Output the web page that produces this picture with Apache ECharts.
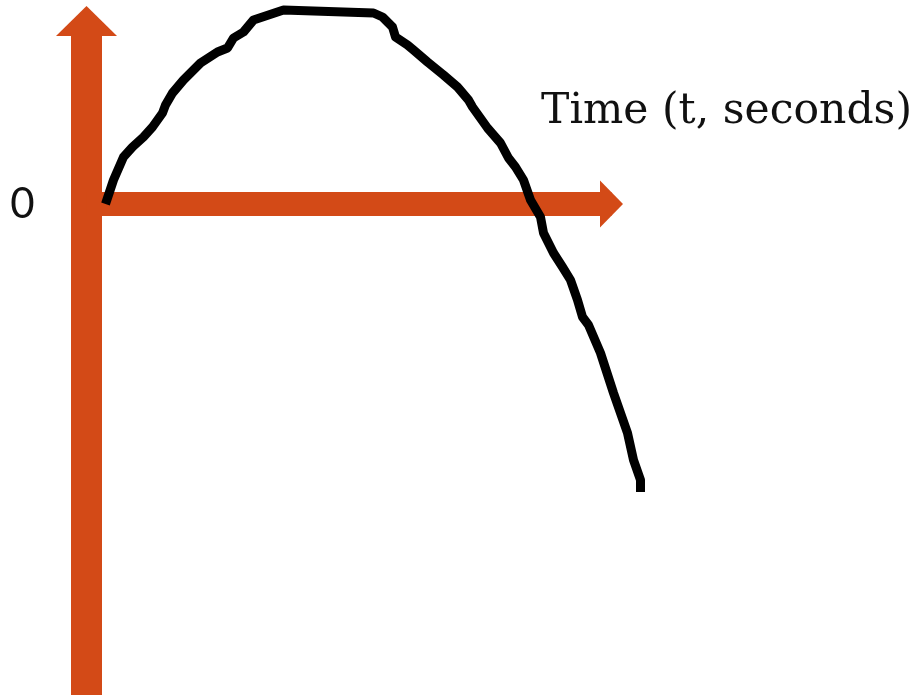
<!DOCTYPE html>
<html>
<head>
<meta charset="utf-8">
<script src="https://cdn.jsdelivr.net/npm/echarts@6/dist/echarts.min.js"></script>
<style>html,body{margin:0;padding:0;background:#fff;}#c{width:920px;height:695px;}</style>
</head>
<body>
<div id="c"></div>
<script>
// Time (arbitrary units) and height (arbitrary units, 0 at the time axis)
const timeValues = [1.9, 2.7, 3.7, 4.6, 5.7, 6.6, 7.6, 7.9, 8.6, 9.7, 11.4, 13.1, 14.1, 14.7, 15.7, 16.7, 19.7, 28.7, 29.6, 30.6, 30.9, 32.1, 32.7, 34.1, 35.7, 37.1, 38.2, 38.6, 40.1, 41.4, 42.2, 42.9, 43.7, 44.4, 45.4, 45.7, 46.7, 47.6, 48.4, 49.1, 49.6, 50.2, 51.4, 52.7, 54.1, 54.7, 55.4, 55.4];
const heightValues = [0, 2.4, 4.7, 5.7, 6.7, 7.7, 9.1, 9.9, 11.1, 12.4, 14.1, 15.2, 15.6, 16.6, 17.2, 18.4, 19.4, 19.1, 18.7, 17.7, 16.7, 15.9, 15.4, 14.2, 12.9, 11.7, 10.4, 9.7, 7.6, 6.1, 4.6, 3.7, 2.4, 0.4, -1.3, -2.9, -4.9, -6.3, -7.6, -9.6, -11.3, -12.1, -14.9, -18.9, -22.9, -25.6, -27.6, -28.8];
const yTickLabels = [0];
const xAxisTitle = 'Time (t, seconds)';

const orange = '#D34A17';
const chart = echarts.init(document.getElementById('c'), null, {renderer: 'canvas'});
const hidden = {show: false};
chart.setOption({
  animation: false,
  backgroundColor: '#ffffff',
  title: {
    text: xAxisTitle,
    right: 3,
    top: 85,
    textStyle: {fontFamily: 'DejaVu Serif', fontSize: 42.5, fontWeight: 'normal', color: '#111'}
  },
  grid: [
    {left: 86.5, right: 308.5, top: 21, bottom: 0},
    {left: 86.5, right: 0, top: 21, bottom: 0}
  ],
  xAxis: [{
    gridIndex: 0, type: 'value', min: 0, max: 52.55,
    splitLine: hidden, axisTick: hidden, axisLabel: hidden,
    axisLine: {show: true, onZero: true, symbol: ['none', 'triangle'], symbolSize: [47, 23],
      lineStyle: {color: orange, width: 24, cap: 'butt'}}
  }, {
    gridIndex: 1, type: 'value', min: 0, max: 83.35,
    splitLine: hidden, axisTick: hidden, axisLabel: hidden, axisLine: hidden
  }],
  yAxis: [{
    gridIndex: 0, type: 'value', min: -49.1, max: 18.3,
    splitLine: hidden, axisTick: hidden,
    axisLabel: {show: true, customValues: yTickLabels, margin: 52, fontFamily: 'Lato', fontSize: 42, color: '#111'},
    axisLine: {show: true, onZero: true, symbol: ['none', 'triangle'], symbolSize: [61, 30],
      lineStyle: {color: orange, width: 31, cap: 'butt'}}
  }, {
    gridIndex: 1, type: 'value', min: -49.1, max: 18.3,
    splitLine: hidden, axisTick: hidden, axisLabel: hidden, axisLine: hidden
  }],
  series: [{
    type: 'line',
    xAxisIndex: 1, yAxisIndex: 1,
    data: timeValues.map((t, i) => [t, heightValues[i]]),
    showSymbol: false,
    clip: false,
    smooth: false,
    lineStyle: {color: '#000', width: 9, cap: 'butt', join: 'round'},
    z: 5
  }]
});
</script>
</body>
</html>
